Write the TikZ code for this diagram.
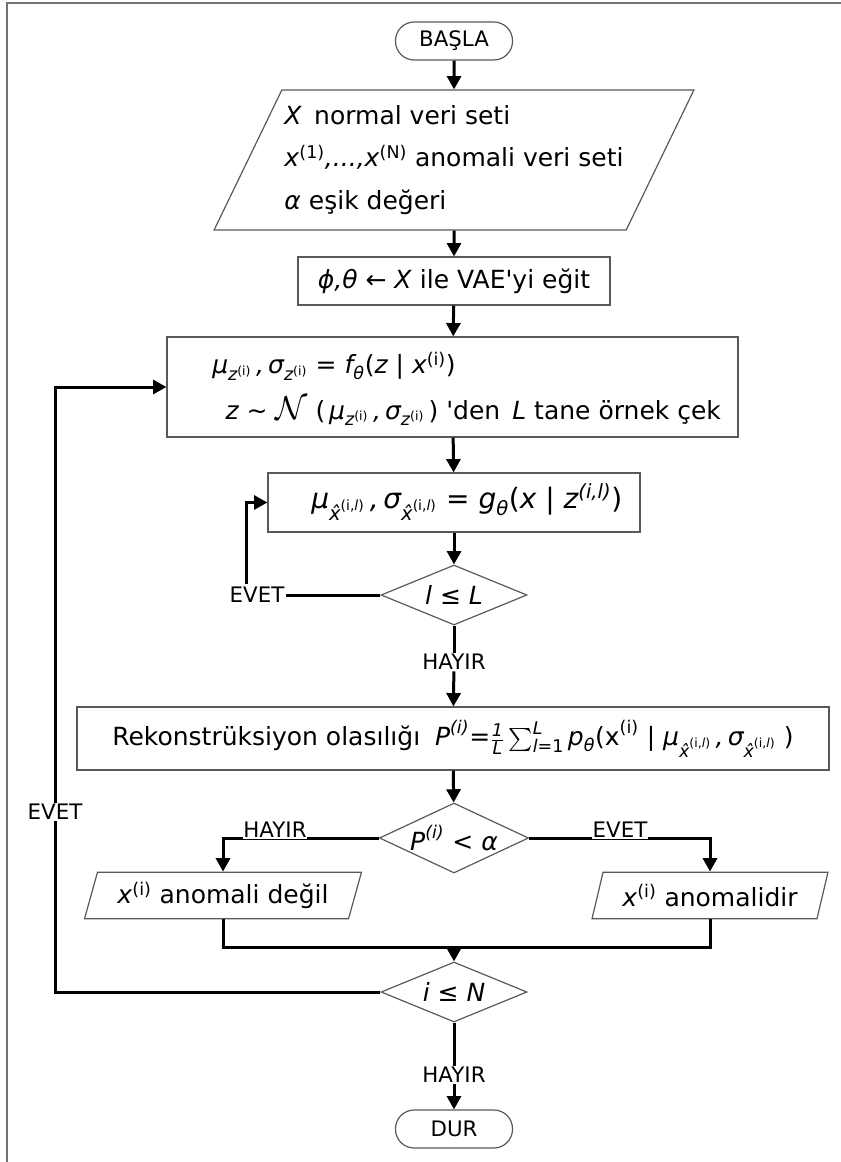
\documentclass[tikz,border=0pt]{standalone}
\usepackage{amsmath}
\usepackage{fontspec}
\setmainfont{DejaVu Sans}
\usetikzlibrary{shapes.geometric,arrows.meta,calc}

% italic and upright text pieces inside formulas
\newcommand\mvar[1]{\text{\itshape #1}}
\newcommand\mtxt[1]{\text{#1}}
% x with a hat, set as one italic glyph with a combining circumflex
\newcommand\xhat{\mvar{x^^^^0302}}
\newcommand\xsup{^{\mtxt{(i,}\mvar{l}\mtxt{)}}}

\begin{document}
\begin{tikzpicture}[x=0.75pt,y=-0.75pt,
  every node/.style={font=\fontsize{18.75}{24}\selectfont, inner sep=0pt},
  frm/.style={draw=black!65, line width=0.9pt},
  box/.style={frm, rectangle},
  term/.style={frm, rectangle, rounded corners=14pt, minimum width=87.75pt,
    minimum height=28.5pt, font=\fontsize{16}{19}\selectfont},
  io/.style={frm, trapezium, trapezium stretches body=true, inner sep=2pt},
  cond/.style={frm, diamond, aspect=2.4},
  lbl/.style={font=\fontsize{16}{19}\selectfont, fill=white, inner sep=1pt},
  flow/.style={line width=2.25pt, black},
  arr/.style={flow, -{Triangle[length=10pt,width=10.5pt]}},
]
\useasboundingbox (0,0) rectangle (840,1162);
% outer frame
\draw[black!55, line width=0.9pt] (7,1200) -- (7,3) -- (900,3);

% terminals, inputs and processing steps
\node[term] (start) at (454,41) {BAŞLA};
\node[io, trapezium left angle=64, trapezium right angle=116,
  inner xsep=2pt, inner ysep=11pt, align=left,
  font=\fontsize{18.75}{32}\selectfont,
  minimum width=358.5pt, minimum height=105pt] (data) at (454,160)
  {\textit{X}\, normal veri seti\\
   \textit{x}$^{\mtxt{(1)}}$\textit{,...,}\textit{x}$^{\mtxt{(N)}}$ anomali veri seti\\
   \textit{α} eşik değeri};

\node[box, minimum width=234pt, minimum height=36pt] (train) at (454,281)
  {\textit{ϕ,θ} ← \textit{X} ile VAE\textquotesingle yi eğit};

\node[box, minimum width=428.25pt, minimum height=75pt] (sample) at (452.5,387) {};
\node[anchor=west, align=left, font=\fontsize{18.75}{34}\selectfont] (sampletxt) at (212,389)
  {$\mvar{μ}_{\mvar{z}^{\mtxt{(i)}}}\mvar{\,,\,}\mvar{σ}_{\mvar{z}^{\mtxt{(i)}}}\mtxt{ = }\mvar{f}_{\mvar{θ}}\mtxt{(}\mvar{z}\mtxt{ | }\mvar{x}^{\mtxt{(i)}}\mtxt{)}$\\
   \hspace*{10pt}$\mvar{z}\mtxt{ ∼ }\text{\fontsize{23}{23}\selectfont$\mathcal{N}$}\mtxt{ (}\,\mvar{μ}_{\mvar{z}^{\mtxt{(i)}}}\mvar{\,,\,}\mvar{σ}_{\mvar{z}^{\mtxt{(i)}}}\,\mtxt{)}$ \textquotesingle den\, \textit{L} tane örnek çek};

\node[box, minimum width=279pt, minimum height=44.25pt] (decode) at (454,502.5) {};
\node[anchor=west, font=\fontsize{21}{26}\selectfont] (decodetxt) at (311,502)
  {$\mvar{μ}_{\xhat\xsup}\mvar{\,,\,}\mvar{σ}_{\xhat\xsup}\mtxt{ = }\mvar{g}_{\mvar{θ}}\mtxt{(}\mvar{x}\mtxt{ | }\mvar{z}^{\mvar{(i,l)}}\mtxt{)}$};

\node[cond, minimum width=109.5pt, minimum height=45pt] (inner) at (454,595)
  {\textit{l} ≤ \textit{L}};

\node[box, minimum width=564pt, minimum height=47.25pt] (recon) at (453,738.5)
  {Rekonstrüksiyon olasılığı\; $\mvar{P}^{\mvar{(i)}}\mtxt{=}\tfrac{\mvar{1}}{\mvar{L}}\sum_{\mvar{l}\mtxt{=1}}^{\mvar{L}}\mvar{p}_{\mvar{θ}}\mtxt{(x}^{\mtxt{(i)}}\mtxt{ | }\mvar{μ}_{\xhat\xsup}\mvar{\,,\,}\mvar{σ}_{\xhat\xsup}\mtxt{ )}$};

\node[cond, minimum width=111pt, minimum height=52.5pt] (test) at (454,838)
  {$\mvar{P}^{\mvar{(i)}}\mtxt{ < }\mvar{α}$};

\node[io, trapezium left angle=68, trapezium right angle=112,
  minimum width=207.75pt, minimum height=35pt] (normal) at (223,895.5)
  {\textit{x}$^{\mtxt{(i)}}$ anomali değil};
\node[io, trapezium left angle=68, trapezium right angle=112,
  minimum width=177pt, minimum height=35pt] (anomal) at (710,895.5)
  {\textit{x}$^{\mtxt{(i)}}$ anomalidir};

\node[cond, minimum width=109.5pt, minimum height=45pt] (outer) at (454,992)
  {\textit{i} ≤ \textit{N}};

\node[term] (stop) at (454,1129) {DUR};

% branch labels that break their connector
\node[lbl] (inyes) at (257,595) {EVET};
\node[lbl] (inno) at (454,662) {HAYIR};
\node[lbl] (outyes) at (55,812) {EVET};
\node[lbl] (outno) at (454,1075) {HAYIR};
\coordinate (innerloop) at (246,584);
\coordinate (join) at (454,947);

% main flow
\draw[arr] (start) -- (data);
\draw[arr] (data) -- (train);
\draw[arr] (train) -- (sample);
\draw[arr] (sample) -- (decode);
\draw[arr] (decode) -- (inner);
\draw[flow] (inner) -- (inno);
\draw[arr] (inno) -- (recon);
\draw[arr] (recon) -- (test);

% inner loop over the L samples
\draw[flow] (inner.west) -- (inyes.east);
\draw[arr] (innerloop) |- (decode.west);

% decision on the reconstruction probability
\draw[arr] (test.west) -| (normal.north);
\draw[arr] (test.east) -| (anomal.north);
\node[lbl, anchor=south, inner sep=0.5pt] (testno) at (275,838.8) {HAYIR};
\node[lbl, anchor=south, inner sep=0.5pt] (testyes) at (620,838.8) {EVET};
\draw[flow] (normal.south) |- (join) -| (anomal.south);
\draw[arr] (join) -- (outer);

% outer loop over the data points
\draw[flow] (outer.west) -| (outyes.south);
\draw[arr] (outyes.north) |- (sample.west);
\draw[flow] (outer) -- (outno);
\draw[arr] (outno) -- (stop);
\end{tikzpicture}
\end{document}
